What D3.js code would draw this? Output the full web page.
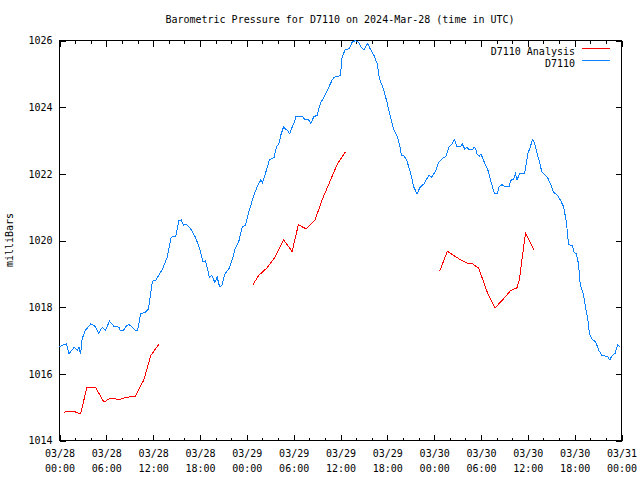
<!DOCTYPE html>
<html>
<head>
<meta charset="utf-8">
<script src="https://cdn.jsdelivr.net/npm/d3@7"></script>
<style>
  body { margin: 0; background: #fff; }
  svg { display: block; }
  text { font-family: "DejaVu Sans Mono", "Liberation Mono", monospace; font-size: 10px; fill: #000; }
</style>
</head>
<body>
<svg id="chart" width="640" height="480"></svg>
<script>
// ---- data (hours since 2024-03-28 00:00 UTC, pressure in mb) ----
const blueHours = [0.0,0.9,1.2,1.9,2.3,2.5,2.7,2.9,3.3,4.0,4.6,5.0,5.5,5.9,6.4,7.0,7.6,7.8,8.2,8.5,8.9,9.3,9.7,10.0,10.4,11.0,11.4,11.9,12.3,12.7,13.2,13.8,14.3,14.9,15.3,15.6,15.9,16.2,16.8,17.4,17.9,18.4,18.7,19.2,19.5,19.9,20.2,20.5,20.8,21.2,21.7,22.1,22.5,23.0,23.4,23.8,24.3,24.9,25.3,25.8,26.0,26.5,26.9,27.5,27.8,28.1,28.4,28.7,29.2,29.5,29.8,30.1,30.3,31.1,31.5,31.9,32.2,32.6,33.0,33.4,34.1,34.5,34.9,35.2,36.0,36.2,36.6,37.1,37.5,37.9,38.3,38.6,39.0,39.2,39.5,39.8,40.3,40.7,41.0,41.5,41.9,42.3,42.8,43.3,43.6,43.8,44.1,44.5,45.0,45.4,45.8,46.2,46.7,47.3,47.7,48.2,48.6,49.0,49.5,49.9,50.3,50.6,50.9,51.4,51.6,51.9,52.2,52.5,52.9,53.1,53.3,53.5,53.8,54.0,54.5,54.9,55.3,55.7,56.1,56.3,56.7,57.0,57.6,57.8,58.2,58.4,58.6,59.0,59.6,59.8,60.0,60.3,60.6,60.8,61.0,61.2,61.5,61.8,62.5,62.9,63.3,63.8,64.2,64.6,64.9,65.1,65.2,65.7,65.9,66.2,66.5,66.7,67.1,67.4,67.7,67.9,68.2,68.7,69.1,69.5,70.2,70.5,70.8,71.2,71.5,71.8];
const bluePress = [1016.82,1016.9,1016.6,1016.8,1016.7,1016.8,1016.6,1017.05,1017.3,1017.5,1017.42,1017.22,1017.4,1017.3,1017.58,1017.42,1017.4,1017.3,1017.3,1017.42,1017.48,1017.4,1017.3,1017.3,1017.8,1017.85,1017.95,1018.78,1018.8,1018.95,1019.15,1019.5,1020.1,1020.12,1020.6,1020.62,1020.45,1020.5,1020.35,1020.1,1019.8,1019.35,1019.4,1018.9,1018.95,1018.75,1018.9,1018.62,1018.65,1019.0,1019.15,1019.4,1019.75,1020.0,1020.4,1020.45,1020.9,1021.35,1021.6,1021.82,1021.72,1022.1,1022.42,1022.5,1022.82,1022.9,1023.2,1023.4,1023.3,1023.2,1023.4,1023.55,1023.72,1023.72,1023.62,1023.62,1023.52,1023.72,1023.75,1024.1,1024.4,1024.6,1024.8,1024.9,1024.95,1025.5,1025.72,1025.75,1025.95,1026.0,1025.95,1025.82,1025.72,1025.8,1025.92,1025.75,1025.55,1025.3,1024.85,1024.55,1024.2,1023.8,1023.35,1023.1,1022.85,1022.55,1022.55,1022.4,1022.0,1021.6,1021.4,1021.6,1021.7,1021.95,1021.9,1022.1,1022.35,1022.45,1022.52,1022.8,1022.9,1023.02,1022.82,1022.82,1022.9,1022.75,1022.8,1022.72,1022.72,1022.8,1022.75,1022.6,1022.53,1022.6,1022.3,1022.1,1021.75,1021.42,1021.42,1021.6,1021.68,1021.62,1021.62,1021.8,1021.85,1022.0,1021.82,1022.02,1022.02,1022.3,1022.6,1022.8,1023.02,1022.95,1022.8,1022.6,1022.35,1022.05,1021.9,1021.7,1021.45,1021.35,1021.2,1021.0,1020.6,1020.2,1019.88,1019.85,1019.65,1019.6,1019.3,1018.7,1018.4,1018.0,1017.6,1017.2,1017.05,1016.95,1016.7,1016.55,1016.52,1016.42,1016.55,1016.62,1016.88,1016.8];

// null marks a gap between analysis segments
const redHours = [0.6,1.2,1.8,2.3,2.7,3.5,4.2,4.6,5.7,6.5,7.6,8.7,9.7,10.8,11.7,12.7,null,24.8,25.5,26.6,27.6,28.7,29.8,30.6,31.6,32.7,33.7,34.7,35.6,36.6,null,48.7,49.7,50.5,51.4,52.1,52.9,53.7,54.8,55.8,56.7,57.8,58.6,58.9,59.7,60.8];
const redPress = [1014.85,1014.88,1014.88,1014.83,1014.8,1015.58,1015.6,1015.6,1015.15,1015.27,1015.23,1015.3,1015.32,1015.82,1016.55,1016.88,null,1018.68,1018.95,1019.18,1019.5,1020.02,1019.67,1020.47,1020.35,1020.6,1021.25,1021.8,1022.3,1022.65,null,1019.08,1019.68,1019.55,1019.42,1019.33,1019.3,1019.17,1018.45,1017.98,1018.2,1018.5,1018.58,1018.8,1020.22,1019.72];

const seriesNames = ["D7110 Analysis", "D7110"];
const xTickHours = [0,6,12,18,24,30,36,42,48,54,60,66,72];
const xTickDates = ["03/28","03/28","03/28","03/28","03/29","03/29","03/29","03/29","03/30","03/30","03/30","03/30","03/31"];
const xTickTimes = ["00:00","06:00","12:00","18:00","00:00","06:00","12:00","18:00","00:00","06:00","12:00","18:00","00:00"];
const yTicks = [1014,1016,1018,1020,1022,1024,1026];
const titleText = "Barometric Pressure for D7110 on 2024-Mar-28 (time in UTC)";
const yLabel = "milliBars";

// ---- layout ----
const L = 59, R = 621, T = 40, B = 440;
const svg = d3.select("#chart");

const x = d3.scaleLinear().domain([0, 72]).range([L, R]);
const y = d3.scaleLinear().domain([1014, 1026]).range([B, T]);

const minorHours = d3.range(0, 73, 2).filter(h => h % 6 !== 0);

// bottom axis
const gB = svg.append("g").attr("transform", `translate(0.5,${B + 0.5})`);
gB.call(d3.axisBottom(x).tickValues(xTickHours).tickSize(-6).tickPadding(9)
  .tickFormat((d, i) => xTickDates[i]));
gB.call(g => g.select(".domain").remove());
gB.selectAll(".tick text").each(function(d, i) {
  const t = d3.select(this);
  t.text(null);
  t.append("tspan").attr("x", 0).text(xTickDates[i]);
  t.append("tspan").attr("x", 0).attr("dy", "1.5em").text(xTickTimes[i]);
});
svg.append("g").attr("transform", `translate(0.5,${B + 0.5})`)
  .call(d3.axisBottom(x).tickValues(minorHours).tickSize(-3).tickFormat(""))
  .call(g => g.select(".domain").remove());

// top axis (mirror)
svg.append("g").attr("transform", `translate(0.5,${T + 0.5})`)
  .call(d3.axisTop(x).tickValues(xTickHours).tickSize(-6).tickFormat(""))
  .call(g => g.select(".domain").remove());
svg.append("g").attr("transform", `translate(0.5,${T + 0.5})`)
  .call(d3.axisTop(x).tickValues(minorHours).tickSize(-3).tickFormat(""))
  .call(g => g.select(".domain").remove());

// left axis
const gL = svg.append("g").attr("transform", `translate(${L + 0.5},0.5)`);
gL.call(d3.axisLeft(y).tickValues(yTicks).tickSize(-6).tickPadding(7).tickFormat(d3.format("d")));
gL.call(g => g.select(".domain").remove());

// right axis (mirror)
svg.append("g").attr("transform", `translate(${R + 0.5},0.5)`)
  .call(d3.axisRight(y).tickValues(yTicks).tickSize(-6).tickFormat(""))
  .call(g => g.select(".domain").remove());

svg.selectAll(".tick line").attr("stroke", "#000").attr("shape-rendering", "crispEdges");
svg.selectAll("g").attr("font-size", null).attr("font-family", null);

// frame
svg.append("rect")
  .attr("x", L + 0.5).attr("y", T + 0.5)
  .attr("width", R - L).attr("height", B - T)
  .attr("fill", "none").attr("stroke", "#000").attr("stroke-width", 1)
  .attr("shape-rendering", "crispEdges");

// clip
svg.append("clipPath").attr("id", "clip")
  .append("rect").attr("x", L).attr("y", T - 1).attr("width", R - L + 1).attr("height", B - T + 2);

const blueData = blueHours.map((h, i) => ({h, v: bluePress[i]}));
const redData = redHours.map((h, i) => ({h, v: redPress[i]}));

const line = d3.line()
  .defined(d => d.h !== null && d.v !== null)
  .x(d => x(d.h) + 0.5)
  .y(d => y(d.v) + 0.5);

const plot = svg.append("g").attr("clip-path", "url(#clip)");
plot.append("path").datum(redData)
  .attr("d", line).attr("fill", "none").attr("stroke", "#ff0000").attr("stroke-width", 1)
  .attr("shape-rendering", "crispEdges");
plot.append("path").datum(blueData)
  .attr("d", line).attr("fill", "none").attr("stroke", "#0a80ff").attr("stroke-width", 1)
  .attr("shape-rendering", "crispEdges");

// title
svg.append("text").attr("x", 340).attr("y", 23).attr("text-anchor", "middle").text(titleText);

// y label
svg.append("text").attr("transform", `translate(13,${(T + B) / 2}) rotate(-90)`)
  .attr("text-anchor", "middle").text(yLabel);

// legend
const legColors = ["#ff0000", "#0a80ff"];
seriesNames.forEach((name, i) => {
  const yy = 51 + i * 12;
  svg.append("text").attr("x", 575).attr("y", yy + 3.5).attr("text-anchor", "end").text(name);
  svg.append("line").attr("x1", 582).attr("x2", 610)
    .attr("y1", yy - 2.5).attr("y2", yy - 2.5)
    .attr("stroke", legColors[i]).attr("stroke-width", 1).attr("shape-rendering", "crispEdges");
});
</script>
</body>
</html>
